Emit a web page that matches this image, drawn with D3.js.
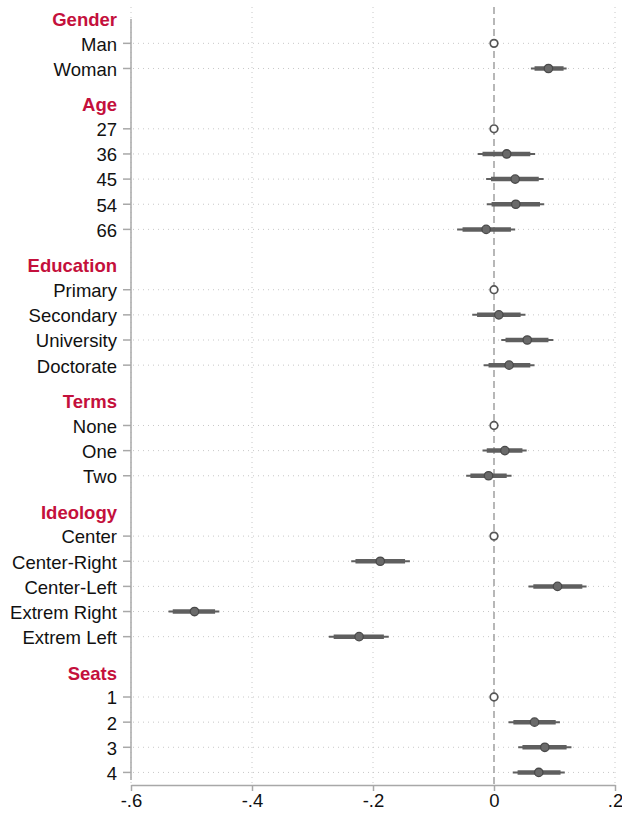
<!DOCTYPE html>
<html>
<head>
<meta charset="utf-8">
<script src="https://cdn.jsdelivr.net/npm/d3@7"></script>
<style>
  html, body { margin: 0; padding: 0; background: #fff; }
  svg { display: block; font-family: Arial, "Liberation Sans", Helvetica, sans-serif; }
</style>
</head>
<body>
<svg id="chart" width="622" height="818"></svg>
<script>
// Coefficient groups and their levels (first level of each group is the reference category)
const groups = ["Gender", "Age", "Education", "Terms", "Ideology", "Seats"];
const levels = [
  ["Man", "Woman"],
  ["27", "36", "45", "54", "66"],
  ["Primary", "Secondary", "University", "Doctorate"],
  ["None", "One", "Two"],
  ["Center", "Center-Right", "Center-Left", "Extrem Right", "Extrem Left"],
  ["1", "2", "3", "4"]
];
// Point estimates (reference categories are 0)
const estimates = [
  [0, 0.090],
  [0, 0.021, 0.035, 0.036, -0.013],
  [0, 0.008, 0.055, 0.025],
  [0, 0.018, -0.009],
  [0, -0.188, 0.105, -0.495, -0.223],
  [0, 0.067, 0.084, 0.074]
];
// Outer (thin) interval bounds
const ciLow = [
  [0, 0.061],
  [0, -0.027, -0.013, -0.012, -0.061],
  [0, -0.036, 0.012, -0.017],
  [0, -0.019, -0.046],
  [0, -0.236, 0.057, -0.538, -0.273],
  [0, 0.024, 0.040, 0.031]
];
const ciHigh = [
  [0, 0.120],
  [0, 0.068, 0.082, 0.083, 0.035],
  [0, 0.052, 0.098, 0.067],
  [0, 0.054, 0.029],
  [0, -0.139, 0.153, -0.454, -0.174],
  [0, 0.109, 0.128, 0.117]
];
// Inner (thick) interval bounds
const innerLow = [
  [0, 0.067],
  [0, -0.019, -0.005, -0.004, -0.052],
  [0, -0.028, 0.019, -0.009],
  [0, -0.012, -0.039],
  [0, -0.229, 0.065, -0.531, -0.265],
  [0, 0.032, 0.047, 0.039]
];
const innerHigh = [
  [0, 0.115],
  [0, 0.060, 0.074, 0.076, 0.028],
  [0, 0.044, 0.090, 0.060],
  [0, 0.047, 0.021],
  [0, -0.147, 0.146, -0.461, -0.182],
  [0, 0.102, 0.120, 0.110]
];
const xTicks = [-0.6, -0.4, -0.2, 0, 0.2];

// Lay out rows: each group gets a header slot, groups after the first add extra spacing
const headerRows = [];
const itemRows = [];
let slot = -1;
groups.forEach((g, gi) => {
  if (gi > 0) slot += 1.4;
  headerRows.push({ label: g, slot: slot });
  levels[gi].forEach((lab, li) => {
    slot += 1;
    itemRows.push({
      label: lab, slot: slot, base: li === 0,
      est: estimates[gi][li], lo: ciLow[gi][li], hi: ciHigh[gi][li],
      ilo: innerLow[gi][li], ihi: innerHigh[gi][li]
    });
  });
});

const svg = d3.select("#chart");
const plotLeft = 131, plotRight = 615, axisY = 785;
const fontSize = 18.5;

const x = d3.scaleLinear().domain([-0.6, 0.2]).range([plotLeft, plotRight]);
const y = d3.scaleLinear().domain([-1, slot + 0.5]).range([18.2, axisY]);

// Tick labels without leading zero, ASCII hyphen for negatives: -.6, -.4, 0, .2
const fmt = v => v === 0 ? "0" : (v < 0 ? "-" : "") + Math.abs(v).toFixed(1).replace(/^0/, "");

// Vertical dotted grid
svg.append("g").selectAll("line").data(xTicks.filter(t => t !== 0)).join("line")
  .attr("x1", d => x(d)).attr("x2", d => x(d))
  .attr("y1", 7).attr("y2", axisY)
  .attr("stroke", "#c8c8c8").attr("stroke-width", 1).attr("stroke-dasharray", "1,4");

// Horizontal dotted grid at each level
svg.append("g").selectAll("line").data(itemRows).join("line")
  .attr("x1", plotLeft + 2).attr("x2", plotRight)
  .attr("y1", d => y(d.slot)).attr("y2", d => y(d.slot))
  .attr("stroke", "#c8c8c8").attr("stroke-width", 1).attr("stroke-dasharray", "1,4");

// Zero reference line
svg.append("line")
  .attr("x1", x(0)).attr("x2", x(0)).attr("y1", 7).attr("y2", axisY)
  .attr("stroke", "#a0a0a0").attr("stroke-width", 1.5).attr("stroke-dasharray", "7,4");

// X axis
const xAxis = svg.append("g").attr("transform", `translate(0,${axisY})`)
  .call(d3.axisBottom(x).tickValues(xTicks).tickFormat(fmt).tickSize(6).tickSizeOuter(0).tickPadding(3));
xAxis.select(".domain").attr("stroke", "#a8a8a8").attr("stroke-width", 1.5);
xAxis.selectAll(".tick line").attr("stroke", "#a8a8a8").attr("stroke-width", 1.5);
xAxis.selectAll(".tick text").attr("font-size", fontSize).attr("fill", "#111")
  .attr("font-family", "Arial, 'Liberation Sans', sans-serif");

// Y axis (level ticks only)
const yAxis = svg.append("g").attr("transform", `translate(${plotLeft},0)`);
yAxis.append("line").attr("x1", 0).attr("x2", 0).attr("y1", 19).attr("y2", 780)
  .attr("stroke", "#a8a8a8").attr("stroke-width", 1.5);
yAxis.selectAll("line.tick").data(itemRows).join("line").attr("class", "tick")
  .attr("x1", -8).attr("x2", 0).attr("y1", d => y(d.slot)).attr("y2", d => y(d.slot))
  .attr("stroke", "#a8a8a8").attr("stroke-width", 1.5);
yAxis.selectAll("text.lvl").data(itemRows).join("text").attr("class", "lvl")
  .attr("x", -14).attr("y", d => y(d.slot) + 0.7).attr("dy", "0.36em")
  .attr("text-anchor", "end").attr("font-size", fontSize).attr("fill", "#111")
  .text(d => d.label);
yAxis.selectAll("text.hdr").data(headerRows).join("text").attr("class", "hdr")
  .attr("x", -14).attr("y", d => y(d.slot) + 1).attr("dy", "0.36em")
  .attr("text-anchor", "end").attr("font-size", fontSize).attr("font-weight", "bold")
  .attr("fill", "#c4103c").text(d => d.label);

// Intervals and point estimates
const est = itemRows.filter(d => !d.base);
const marks = svg.append("g");
marks.selectAll("line.outer").data(est).join("line").attr("class", "outer")
  .attr("x1", d => x(d.lo)).attr("x2", d => x(d.hi))
  .attr("y1", d => y(d.slot)).attr("y2", d => y(d.slot))
  .attr("stroke", "#5f5f5f").attr("stroke-width", 2);
marks.selectAll("line.inner").data(est).join("line").attr("class", "inner")
  .attr("x1", d => x(d.ilo)).attr("x2", d => x(d.ihi))
  .attr("y1", d => y(d.slot)).attr("y2", d => y(d.slot))
  .attr("stroke", "#5f5f5f").attr("stroke-width", 4.5);
marks.selectAll("circle.pt").data(est).join("circle").attr("class", "pt")
  .attr("cx", d => x(d.est)).attr("cy", d => y(d.slot)).attr("r", 4.2)
  .attr("fill", "#6a6a6a").attr("stroke", "#4a4a4a").attr("stroke-width", 1.3);
marks.selectAll("circle.base").data(itemRows.filter(d => d.base)).join("circle").attr("class", "base")
  .attr("cx", d => x(d.est)).attr("cy", d => y(d.slot)).attr("r", 3.8)
  .attr("fill", "#fff").attr("stroke", "#555").attr("stroke-width", 1.7);
</script>
</body>
</html>
